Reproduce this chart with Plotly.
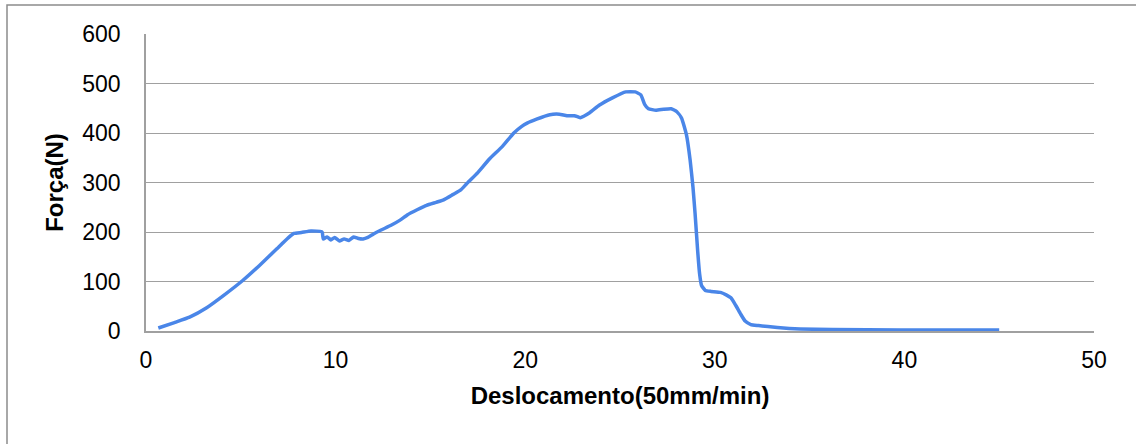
import plotly.graph_objects as go

deslocamento = [0.65, 1.5, 2.3, 3.2, 4.1, 5.1, 6.0, 6.9, 7.5, 7.8, 8.2, 8.7, 9.25, 9.3,
                9.35, 9.55, 9.75, 9.95, 10.2, 10.45, 10.7, 10.95, 11.2, 11.45, 11.7, 12.0,
                12.4, 12.9, 13.4, 13.8, 14.3, 14.8, 15.3, 15.7, 16.2, 16.6, 16.9, 17.5,
                18.1, 18.8, 19.4, 19.8, 20.1, 20.6, 21.3, 21.8, 22.2, 22.6, 22.9, 23.4,
                23.9, 24.6, 25.3, 25.8, 26.1, 26.3, 26.5, 26.9, 27.3, 27.7, 28.0, 28.25,
                28.5, 28.7, 28.85, 28.96, 29.1, 29.2, 29.3, 29.5, 29.8, 30.3, 30.6, 30.85,
                31.1, 31.35, 31.6, 31.9, 32.3, 33.3, 34.5, 36.2, 39.8, 45.0]
forca = [6, 17, 28, 47, 72, 102, 133, 166, 188, 197, 199, 202, 201, 199,
         186, 190, 184, 189, 182, 186, 183, 190, 187, 186, 189, 196,
         204, 213, 224, 235, 245, 254, 260, 265, 276, 285, 297, 320,
         347, 373, 400, 413, 420, 428, 437, 438, 435, 435, 431, 441,
         456, 471, 483, 483, 477, 458, 449, 446, 448, 449, 443, 430,
         397, 345, 290, 237, 160, 115, 92, 82, 80, 78, 73, 67,
         52, 35, 20, 13, 11, 7, 4, 3, 2, 2]

x_ticks = [0, 10, 20, 30, 40, 50]
y_ticks = [0, 100, 200, 300, 400, 500, 600]

fig = go.Figure()
fig.add_trace(go.Scatter(x=deslocamento, y=forca, mode="lines",
                         line=dict(color="#4a86e8", width=3.5, shape="spline", smoothing=0.4),
                         showlegend=False, hoverinfo="skip"))

W, H = 1136, 444
L, R, T, B = 146, 1094, 34, 331
pw, ph = R - L, B - T

def px(xp):
    return (xp - L) / pw

def py(yp):
    return (B - yp) / ph

fig.add_shape(type="rect", xref="paper", yref="paper",
              x0=px(7), x1=px(1150), y0=py(5), y1=py(470),
              line=dict(color="#8c8c8c", width=1.5), fillcolor="rgba(0,0,0,0)", layer="below")

font = "Liberation Sans, Arial, sans-serif"
fig.update_layout(
    width=W, height=H,
    margin=dict(l=L, r=W - R, t=T, b=H - B, pad=0),
    paper_bgcolor="white", plot_bgcolor="white",
    font=dict(family=font, size=23, color="#000000"),
    xaxis=dict(range=[0, 50], tickvals=x_ticks, showgrid=False, zeroline=False,
               showline=True, linecolor="#a0a0a0", linewidth=1.5,
               ticks="outside", ticklen=8, tickcolor="rgba(0,0,0,0)",
               tickfont=dict(size=23),
               title=dict(text="<b>Deslocamento(50mm/min)</b>", font=dict(size=24), standoff=15)),
    yaxis=dict(range=[0, 600], tickvals=y_ticks, showgrid=True, gridcolor="#a0a0a0", gridwidth=1.2,
               zeroline=False, showline=True, linecolor="#a0a0a0", linewidth=1.5,
               ticks="outside", ticklen=19, tickcolor="rgba(0,0,0,0)",
               tickfont=dict(size=23),
               title=dict(text="<b>Força(N)</b>", font=dict(size=24), standoff=12)),
)

fig.write_html("out.html", config={"displayModeBar": False},
               post_script="document.body.style.margin='0';")
